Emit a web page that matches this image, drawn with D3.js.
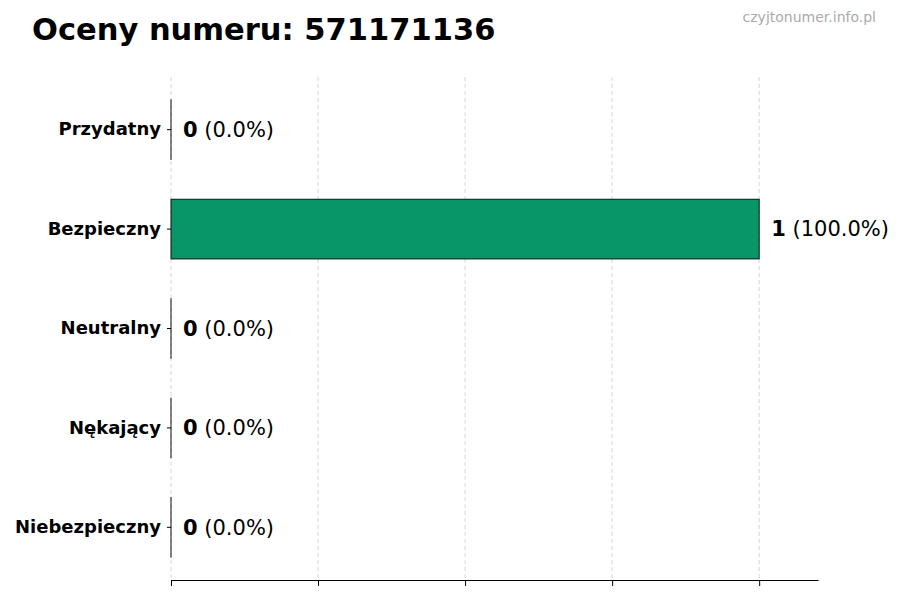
<!DOCTYPE html>
<html>
<head>
<meta charset="utf-8">
<script src="https://cdn.jsdelivr.net/npm/d3@7"></script>
<style>
    body { margin: 0; background: #fff; }
    text { font-family: 'DejaVu Sans', sans-serif; }
</style>
</head>
<body>
<div id="chart"></div>
<script>
// data
var categories = ['Przydatny', 'Bezpieczny', 'Neutralny', 'Nękający', 'Niebezpieczny'];
var counts = [0, 1, 0, 0, 0];
var percents = ['0.0%', '100.0%', '0.0%', '0.0%', '0.0%'];
var xTicks = [0, 0.25, 0.5, 0.75, 1];

var svgWidth = 900;
var svgHeight = 600;

var margin = {
    top: 77,
    right: 82,
    bottom: 20,
    left: 171
};

var width = svgWidth - margin.left - margin.right;
var height = svgHeight - margin.top - margin.bottom;

var svg = d3.select('#chart')
    .append('svg')
    .attr('width', svgWidth)
    .attr('height', svgHeight);

svg.append('text')
    .attr('x', 32)
    .attr('y', 40)
    .attr('font-size', '30.5px')
    .attr('font-weight', 'bold')
    .text('Oceny numeru: 571171136');

svg.append('text')
    .attr('x', 876)
    .attr('y', 22)
    .attr('text-anchor', 'end')
    .attr('font-size', '14px')
    .attr('fill', '#aaaaaa')
    .text('czyjtonumer.info.pl');

var chartGroup = svg.append('g')
    .attr('transform', `translate(${margin.left}, ${margin.top})`);

var xScale = d3.scaleLinear()
    .domain([0, 1.1])
    .range([0, width]);

var yScale = d3.scaleBand()
    .domain(categories)
    .range([0, height])
    .paddingInner(0.4)
    .paddingOuter(0.23);

// dashed vertical grid
chartGroup.selectAll('line.grid')
    .data(xTicks)
    .enter()
    .append('line')
    .attr('class', 'grid')
    .attr('x1', d => xScale(d))
    .attr('x2', d => xScale(d))
    .attr('y1', 0)
    .attr('y2', height)
    .attr('stroke', '#cccccc')
    .attr('stroke-width', 0.8)
    .attr('stroke-dasharray', '4,3');

// zero bars still get drawn as a thin outline, so keep a tiny width
chartGroup.selectAll('rect.bar')
    .data(counts)
    .enter()
    .append('rect')
    .attr('class', 'bar')
    .attr('x', xScale(0))
    .attr('y', (d, i) => yScale(categories[i]))
    .attr('width', d => Math.max(xScale(d) - xScale(0), 0.01))
    .attr('height', yScale.bandwidth())
    .attr('fill', '#069668')
    .attr('stroke', '#111')
    .attr('stroke-width', 1);

var bottomAxis = d3.axisBottom(xScale)
    .tickValues(xTicks)
    .tickFormat('')
    .tickSize(6)
    .tickSizeOuter(0);

var xAxisG = chartGroup.append('g')
    .attr('transform', `translate(0, ${height})`)
    .call(bottomAxis);
xAxisG.select('.domain').attr('stroke-width', 1.2);

var leftAxis = d3.axisLeft(yScale)
    .tickSize(4)
    .tickPadding(6);

var yAxisG = chartGroup.append('g')
    .call(leftAxis);
yAxisG.select('.domain').remove();
yAxisG.selectAll('text')
    .attr('font-size', '18px')
    .attr('font-weight', 'bold')
    .attr('font-family', 'DejaVu Sans, sans-serif')
    .attr('fill', '#000');

var labels = chartGroup.selectAll('text.valueLabel')
    .data(counts)
    .enter()
    .append('text')
    .attr('class', 'valueLabel')
    .attr('x', d => xScale(d) + 12)
    .attr('y', (d, i) => yScale(categories[i]) + yScale.bandwidth() / 2)
    .attr('dy', '0.35em')
    .attr('font-size', '21px');

labels.append('tspan')
    .attr('font-weight', 'bold')
    .text(d => d);

labels.append('tspan')
    .text((d, i) => ` (${percents[i]})`);
</script>
</body>
</html>
